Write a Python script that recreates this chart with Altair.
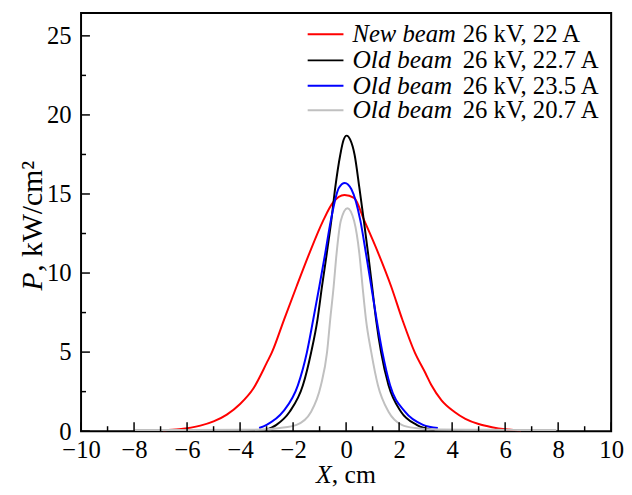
import altair as alt
import pandas as pd

# ---- data ----
red_x = [-6.9, -6.3, -5.5, -5.0, -4.5, -4.0, -3.5, -3.0, -2.8, -2.34, -1.87, -1.39, -0.87, -0.5, -0.06,
         0.3, 0.69, 1.22, 1.70, 2.12, 2.59, 3.0, 3.22, 3.6, 4.08, 4.5, 5.0, 5.5, 6.0, 6.6]
red_y = [0.05, 0.12, 0.35, 0.62, 1.05, 1.72, 2.7, 4.3, 4.98, 7.06, 9.15, 11.23, 13.3, 14.45, 14.94,
         14.75, 13.3, 11.23, 9.15, 7.06, 4.98, 3.65, 2.9, 1.95, 1.23, 0.78, 0.45, 0.25, 0.12, 0.05]

black_x = [-3.07, -2.63, -2.13, -1.63, -1.32, -1.08, -0.91, -0.73, -0.56, -0.41, -0.22, -0.1, 0.02,
           0.15, 0.32, 0.50, 0.67, 0.83, 0.98, 1.13, 1.32, 1.60, 2.07, 2.66, 3.34]
black_y = [0.05, 0.4, 1.23, 2.9, 4.98, 7.06, 9.15, 11.23, 13.3, 15.4, 17.48, 18.4, 18.69,
           18.45, 17.48, 15.4, 13.3, 11.23, 9.15, 7.06, 4.98, 2.9, 1.23, 0.4, 0.05]

blue_x = [-3.28, -3.0, -2.38, -1.82, -1.48, -1.24, -1.01, -0.79, -0.58, -0.27, -0.05,
          0.2, 0.54, 0.75, 0.95, 1.15, 1.37, 1.66, 2.22, 2.9, 3.46]
blue_y = [0.2, 0.4, 1.23, 2.9, 4.98, 7.06, 9.15, 11.23, 13.3, 15.4, 15.7,
          15.3, 13.3, 11.23, 9.15, 7.06, 4.98, 2.9, 1.23, 0.4, 0.2]

gray_x = [-7.97, -6.0, -4.0, -3.2, -2.5, -1.87, -1.32, -0.95, -0.72, -0.6, -0.47, -0.36, -0.2, 0.05,
          0.3, 0.5, 0.62, 0.75, 0.95, 1.2, 1.6, 2.1, 2.6, 3.5, 5.0, 6.5, 7.93]
gray_y = [0.08, 0.08, 0.09, 0.1, 0.2, 0.4, 1.23, 2.9, 4.98, 7.06, 9.15, 11.23, 13.3, 14.1,
          13.3, 11.23, 9.15, 7.06, 4.98, 2.9, 1.23, 0.4, 0.2, 0.1, 0.09, 0.08, 0.08]

series_names = ["New beam", "Old beam", "Old beam", "Old beam"]
series_params = ["26 kV, 22 A", "26 kV, 22.7 A", "26 kV, 23.5 A", "26 kV, 20.7 A"]
series_colors = ["#ff0000", "#000000", "#0000ff", "#c0c0c0"]
legend_rows = [25.1, 23.45, 21.85, 20.3]

x_major = [-10, -8, -6, -4, -2, 0, 2, 4, 6, 8, 10]
x_minor = [-9, -7, -5, -3, -1, 1, 3, 5, 7, 9]
y_major = [0, 5, 10, 15, 20, 25]
y_minor = [2.5, 7.5, 12.5, 17.5, 22.5]

# ---- layout ----
W, H = 537, 423.5
FONT = "Liberation Serif, Times New Roman, serif"
FS = 25

series_xy = [(red_x, red_y), (black_x, black_y), (blue_x, blue_y), (gray_x, gray_y)]
rows = []
for i, (xs, ys) in enumerate(series_xy):
    for xv, yv in zip(xs, ys):
        rows.append({"x": xv, "y": yv, "s": i})
df = pd.DataFrame(rows)

xscale = alt.Scale(domain=[-10, 10], nice=False, zero=False)
yscale = alt.Scale(domain=[0, 26.44], nice=False, zero=False)
cscale = alt.Scale(domain=[0, 1, 2, 3], range=series_colors)

xaxis = alt.Axis(values=x_major, ticks=False, tickSize=0, domain=False, grid=False,
                 labelFont=FONT, labelFontSize=FS, labelPadding=7, labelColor="black",
                 labelFlush=False, title=None)
yaxis = alt.Axis(values=y_major, ticks=False, tickSize=0, domain=False, grid=False,
                 labelFont=FONT, labelFontSize=FS, labelPadding=10, labelColor="black",
                 labelFlush=False, title=None)

lines = alt.Chart(df).mark_line(strokeWidth=2, interpolate="monotone").encode(
    x=alt.X("x:Q", scale=xscale, axis=xaxis),
    y=alt.Y("y:Q", scale=yscale, axis=yaxis),
    color=alt.Color("s:O", scale=cscale, legend=None),
    strokeWidth=alt.StrokeWidth("s:O", scale=alt.Scale(domain=[0, 1, 2, 3], range=[2, 2, 2, 2.5]),
                                legend=None),
    detail="s:O",
    order=alt.Order("x:Q"),
)

def tick_layer(vals, axis, length):
    d = pd.DataFrame({"v": vals})
    if axis == "x":
        return alt.Chart(d).mark_rule(color="black", strokeWidth=1.5).encode(
            x=alt.X("v:Q", scale=xscale, axis=xaxis),
            y=alt.value(H), y2=alt.value(H - length))
    return alt.Chart(d).mark_rule(color="black", strokeWidth=1.5).encode(
        y=alt.Y("v:Q", scale=yscale, axis=yaxis),
        x=alt.value(0), x2=alt.value(length))

ticks = [tick_layer(x_major, "x", 9), tick_layer(x_minor, "x", 5),
         tick_layer(y_major, "y", 9), tick_layer(y_minor, "y", 5)]

leg = pd.DataFrame({"name": series_names, "par": series_params, "ly": legend_rows,
                    "s": [0, 1, 2, 3], "fs": [25, 25.8, 25.8, 25.8]})
leg_lines = alt.Chart(leg).mark_rule(strokeWidth=2).encode(
    x=alt.datum(-1.45, scale=xscale, axis=xaxis), x2=alt.datum(-0.1),
    y=alt.Y("ly:Q", scale=yscale, axis=yaxis),
    color=alt.Color("s:O", scale=cscale, legend=None))
leg_it = alt.Chart(leg).mark_text(font=FONT, fontStyle="italic", align="left",
                                  baseline="middle", color="black").encode(
    x=alt.datum(0.24, scale=xscale, axis=xaxis), y=alt.Y("ly:Q", scale=yscale, axis=yaxis),
    size=alt.Size("fs:Q", scale=None, legend=None),
    text="name:N")
leg_rg = alt.Chart(leg).mark_text(font=FONT, fontSize=FS, align="left",
                                  baseline="middle", color="black").encode(
    x=alt.datum(4.4, scale=xscale, axis=xaxis), y=alt.Y("ly:Q", scale=yscale, axis=yaxis),
    text="par:N")

def label(txt, px, py, size, italic=False, angle=0):
    kw = dict(font=FONT, fontSize=size, align="left", baseline="alphabetic", color="black")
    if italic:
        kw["fontStyle"] = "italic"
    if angle:
        kw["angle"] = angle
    return alt.Chart(pd.DataFrame({"t": [txt]})).mark_text(**kw).encode(
        text="t:N", x=alt.value(px), y=alt.value(py))

titles = [
    label("X", 238, 476, 26, italic=True),
    label(", cm", 254, 476, 26),
    label("P", -40, 281, 30, italic=True, angle=270),
    label(", kW/cm²", -40, 262, 30, angle=270),
]

chart = alt.layer(lines, *ticks, leg_lines, leg_it, leg_rg, *titles).properties(
    width=W, height=H,
    padding={"left": 74, "top": 2, "right": 13, "bottom": 61},
    autosize=alt.AutoSizeParams(type="none"),
).configure_view(stroke="black", strokeWidth=2)

chart.save("out.html", embed_options={"renderer": "svg", "actions": False})
